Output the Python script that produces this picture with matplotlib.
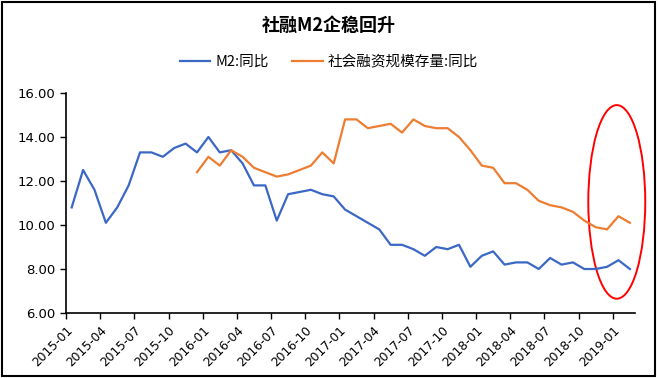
import numpy as np
import matplotlib
matplotlib.use('Agg')
import matplotlib.pyplot as plt
from matplotlib.patches import Ellipse, Rectangle

plt.rcParams['font.family'] = ['Noto Sans CJK SC', 'DejaVu Sans']

# monthly data, 2015-01 .. 2019-02
months = ['2015-01', '2015-02', '2015-03', '2015-04', '2015-05', '2015-06',
          '2015-07', '2015-08', '2015-09', '2015-10', '2015-11', '2015-12',
          '2016-01', '2016-02', '2016-03', '2016-04', '2016-05', '2016-06',
          '2016-07', '2016-08', '2016-09', '2016-10', '2016-11', '2016-12',
          '2017-01', '2017-02', '2017-03', '2017-04', '2017-05', '2017-06',
          '2017-07', '2017-08', '2017-09', '2017-10', '2017-11', '2017-12',
          '2018-01', '2018-02', '2018-03', '2018-04', '2018-05', '2018-06',
          '2018-07', '2018-08', '2018-09', '2018-10', '2018-11', '2018-12',
          '2019-01', '2019-02']

m2 = [10.8, 12.5, 11.6, 10.1, 10.8, 11.8, 13.3, 13.3, 13.1, 13.5, 13.7, 13.3,
      14.0, 13.3, 13.4, 12.8, 11.8, 11.8, 10.2, 11.4, 11.5, 11.6, 11.4, 11.3,
      10.7, 10.4, 10.1, 9.8, 9.1, 9.1, 8.9, 8.6, 9.0, 8.9, 9.1, 8.1,
      8.6, 8.8, 8.2, 8.3, 8.3, 8.0, 8.5, 8.2, 8.3, 8.0, 8.0, 8.1,
      8.4, 8.0]

# social financing stock starts in 2015-12
tsf_start = '2015-12'
tsf = [12.4,
       13.1, 12.7, 13.4, 13.1, 12.6, 12.4, 12.2, 12.3, 12.5, 12.7, 13.3, 12.8,
       14.8, 14.8, 14.4, 14.5, 14.6, 14.2, 14.8, 14.5, 14.4, 14.4, 14.0, 13.4,
       12.7, 12.6, 11.9, 11.9, 11.6, 11.1, 10.9, 10.8, 10.6, 10.2, 9.9, 9.8,
       10.4, 10.1]

yticks = [6, 8, 10, 12, 14, 16]

blue = '#3a68c4'
orange = '#ed7d31'

fig = plt.figure(figsize=(6.58, 3.78), dpi=100)
ax = fig.add_axes([66 / 658, 1 - 313 / 378, (635 - 66) / 658, (313 - 93) / 378])

x = np.arange(len(months)) + 0.5
i0 = months.index(tsf_start)
x_tsf = np.arange(i0, i0 + len(tsf)) + 0.5

ax.plot(x, m2, color=blue, lw=1.6, label='M2:同比')
ax.plot(x_tsf, tsf, color=orange, lw=1.6, label='社会融资规模存量:同比')

ax.set_xlim(0, 49.95)
ax.set_ylim(6, 16)
ax.set_yticks(yticks)
ax.set_yticklabels(['%.2f' % v for v in yticks], fontsize=9.5, family='DejaVu Sans')
tick_pos = np.arange(0, len(months), 3)
ax.set_xticks(tick_pos)
ax.set_xticklabels([months[i] for i in tick_pos], rotation=45, ha='right',
                   rotation_mode='anchor', fontsize=8.8, family='DejaVu Sans')
ax.tick_params(direction='out', length=4, width=1, colors='black')
for s in ['top', 'right']:
    ax.spines[s].set_visible(False)
for s in ['left', 'bottom']:
    ax.spines[s].set_linewidth(1.2)

# red ellipse around latest months
ell = Ellipse((48.35, 11.05), 5.0, 8.8, fill=False, edgecolor='red', lw=1.4,
              clip_on=False)
ax.add_patch(ell)

fig.text(0.5, 1 - 25 / 378, '社融M2企稳回升', ha='center', va='center',
         fontsize=13, fontweight='bold')
fig.legend(loc='center', bbox_to_anchor=(0.5, 1 - 62 / 378), ncol=2,
           frameon=False, fontsize=10.5, handlelength=2.1, columnspacing=1.6,
           handletextpad=0.35)

fig.patches.append(Rectangle((0.003, 0.004), 0.993, 0.992, transform=fig.transFigure,
                             fill=False, edgecolor='black', lw=1.5))

fig.savefig('out.png', dpi=100)
